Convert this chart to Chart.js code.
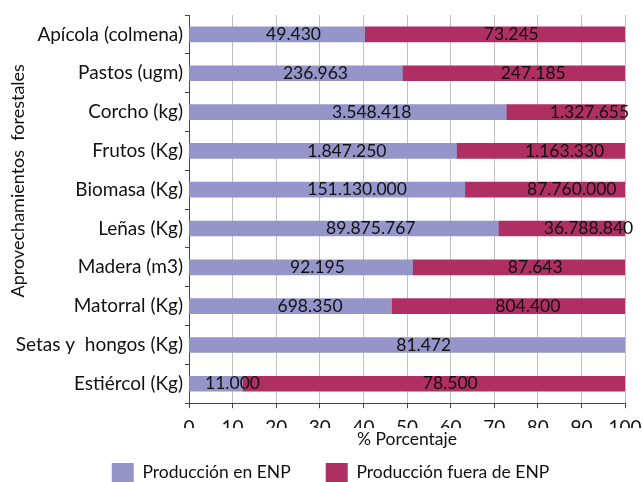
<!DOCTYPE html>
<html>
<head>
<meta charset="utf-8">
<script src="https://cdn.jsdelivr.net/npm/chart.js@4/dist/chart.umd.min.js"></script>
<style>
  html, body { margin: 0; padding: 0; background: #fff; }
  #wrap { width: 642px; height: 482px; }
</style>
</head>
<body>
<div id="wrap"><canvas id="chart" width="642" height="482"></canvas></div>
<script>
const categories = [
  "Apícola (colmena)", "Pastos (ugm)", "Corcho (kg)", "Frutos (Kg)", "Biomasa (Kg)",
  "Leñas (Kg)", "Madera (m3)", "Matorral (Kg)", "Setas y  hongos (Kg)", "Estiércol (Kg)"
];
// produccion en espacios naturales protegidos
const enpValues = [49430, 236963, 3548418, 1847250, 151130000, 89875767, 92195, 698350, 81472, 11000];
// produccion fuera
const fueraValues = [73245, 247185, 1327655, 1163330, 87760000, 36788840, 87643, 804400, 0, 78500];
const xTicks = [0, 10, 20, 30, 40, 50, 60, 70, 80, 90, 100];
const yTitle = "Aprovechamientos  forestales";

const FONT = "Lato, 'Liberation Sans', sans-serif";
const INK = "#111";

// share of each row, in percent
const enpPct = enpValues.map((v, i) => v / (v + fueraValues[i]) * 100);
const fueraPct = fueraValues.map((v, i) => v / (enpValues[i] + v) * 100);

function fmt(n) {
  return String(n).replace(/\B(?=(\d{3})+(?!\d))/g, ".");
}

// raw amounts drawn on each segment (a bit right of centre, like the original)
const segmentLabels = {
  id: "segmentLabels",
  afterDatasetsDraw(chart) {
    const ctx = chart.ctx;
    const raws = [enpValues, fueraValues];
    ctx.save();
    ctx.font = "17.5px " + FONT;
    ctx.fillStyle = INK;
    ctx.textAlign = "left";
    ctx.textBaseline = "middle";
    chart.data.datasets.forEach((ds, di) => {
      chart.getDatasetMeta(di).data.forEach((bar, i) => {
        const raw = raws[di][i];
        if (!raw) return;
        const txt = fmt(raw);
        const w = ctx.measureText(txt).width;
        const cx = (bar.x + bar.base) / 2;
        ctx.fillText(txt, cx - w * 0.2, bar.y);
      });
    });
    ctx.restore();
  }
};

// y axis title, sits a little above the middle of the plot
const sideTitle = {
  id: "sideTitle",
  afterDraw(chart) {
    const ctx = chart.ctx;
    const a = chart.chartArea;
    ctx.save();
    ctx.font = "18px " + FONT;
    ctx.fillStyle = INK;
    ctx.textAlign = "center";
    ctx.textBaseline = "middle";
    ctx.translate(18, a.top + (a.bottom - a.top) * 0.427);
    ctx.rotate(-Math.PI / 2);
    ctx.fillText(yTitle, 0, 0);
    ctx.restore();
  }
};

// legend sits slightly right of the canvas centre in the original
const legendShift = {
  id: "legendShift",
  afterLayout(chart) {
    chart.legend.left += 11;
    chart.legend.right += 11;
  }
};

new Chart(document.getElementById("chart"), {
  type: "bar",
  data: {
    labels: categories,
    datasets: [
      {
        label: "Producción en ENP",
        data: enpPct,
        backgroundColor: "#9595CA",
        barThickness: 15
      },
      {
        label: "Producción fuera de ENP",
        data: fueraPct,
        backgroundColor: "#B02F62",
        barThickness: 15
      }
    ]
  },
  options: {
    indexAxis: "y",
    responsive: false,
    animation: false,
    layout: { padding: { top: 15, right: 17, left: 14, bottom: -10 } },
    plugins: {
      tooltip: { enabled: false },
      legend: {
        position: "bottom",
        labels: {
          font: { family: FONT, size: 17.5 },
          color: INK,
          boxWidth: 22,
          boxHeight: 19,
          padding: 35
        }
      }
    },
    scales: {
      x: {
        stacked: true,
        min: 0,
        max: 100,
        afterBuildTicks: axis => { axis.ticks = xTicks.map(v => ({ value: v })); },
        afterFit: axis => { axis.paddingRight = 16; },
        grid: { color: "#c0c0c0", tickColor: "#444", tickLength: 5 },
        border: { color: "#444" },
        ticks: { font: { family: FONT, size: 19 }, color: INK, padding: 8 },
        title: {
          display: true,
          text: "% Porcentaje",
          font: { family: FONT, size: 17.5 },
          color: INK,
          padding: { top: -18, bottom: -22 }
        }
      },
      y: {
        stacked: true,
        afterFit: axis => { axis.width = 175; },
        grid: { drawOnChartArea: false, tickColor: "#444", tickLength: 4, offset: true },
        border: { color: "#444" },
        ticks: { font: { family: FONT, size: 19 }, color: INK, padding: 2 }
      }
    }
  },
  plugins: [segmentLabels, sideTitle, legendShift]
});
</script>
</body>
</html>
